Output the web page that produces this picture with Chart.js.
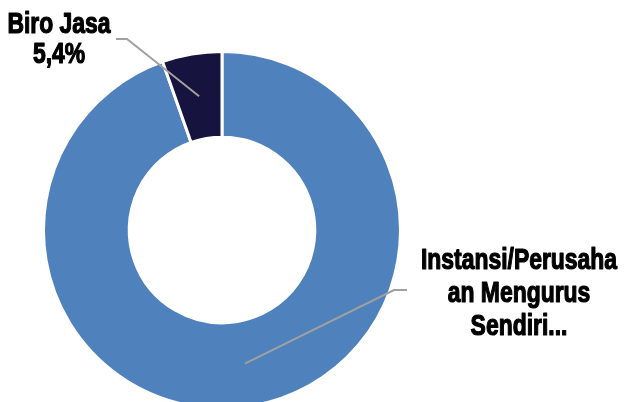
<!DOCTYPE html>
<html>
<head>
<meta charset="utf-8">
<script src="https://cdn.jsdelivr.net/npm/chart.js@4/dist/chart.umd.min.js"></script>
<style>
  html, body { margin: 0; padding: 0; background: #fff; overflow: hidden; }
  #wrap { width: 625px; height: 402px; overflow: hidden; }
</style>
</head>
<body>
<div id="wrap"><canvas id="c" width="625" height="420"></canvas></div>
<script>
// Data
const categories = ['Instansi/Perusahaan Mengurus Sendiri', 'Biro Jasa'];
const values     = [94.6, 5.4];
const colors     = ['#4F81BD', '#16133F'];

// label text as shown on the picture (Excel clips the long one)
const labelLines = [
    ['Instansi/Perusaha', 'an Mengurus', 'Sendiri...'],
    ['Biro Jasa', '5,4%']
];

// label layout: text centre x, first baseline, line step, leader elbow
const labelLayout = [
    { x: 519, y: 269, step: 33, elbow: [[407, 290], [394, 290]] },
    { x: 59,  y: 33,  step: 30, elbow: [[116, 39], [127, 39]] }
];

// no narrow font installed: squeeze a bold sans horizontally
const LABEL_FONT = 'bold 29px "Liberation Sans", Arial, sans-serif';
const LABEL_SQUEEZE = 0.79;

const calloutPlugin = {
    id: 'callouts',
    afterDatasetsDraw(chart) {
        const ctx = chart.ctx;
        const meta = chart.getDatasetMeta(0);
        meta.data.forEach((arc, i) => {
            const lay = labelLayout[i];
            const p = arc.tooltipPosition();
            // leader line
            ctx.save();
            ctx.strokeStyle = '#A0A0A0';
            ctx.lineWidth = 2;
            ctx.beginPath();
            ctx.moveTo(lay.elbow[0][0], lay.elbow[0][1]);
            ctx.lineTo(lay.elbow[1][0], lay.elbow[1][1]);
            ctx.lineTo(p.x, p.y);
            ctx.stroke();
            ctx.restore();
            // label text (thin stroke to mimic the heavy face)
            ctx.save();
            ctx.fillStyle = '#000';
            ctx.strokeStyle = '#000';
            ctx.lineWidth = 1.2;
            ctx.lineJoin = 'round';
            ctx.font = LABEL_FONT;
            ctx.textAlign = 'center';
            ctx.textBaseline = 'alphabetic';
            ctx.translate(lay.x, 0);
            ctx.scale(LABEL_SQUEEZE, 1);
            labelLines[i].forEach((t, k) => {
                ctx.fillText(t, 0, lay.y + k * lay.step);
                ctx.strokeText(t, 0, lay.y + k * lay.step);
            });
            ctx.restore();
        });
    }
};

new Chart(document.getElementById('c'), {
    type: 'doughnut',
    data: {
        labels: categories,
        datasets: [{
            data: values,
            backgroundColor: colors,
            borderColor: '#ffffff',
            borderWidth: 3
        }]
    },
    options: {
        responsive: false,
        animation: false,
        cutout: '52%',
        layout: { padding: { top: 50, bottom: 10, left: 42, right: 223 } },
        plugins: {
            legend: { display: false },
            tooltip: { enabled: false }
        }
    },
    plugins: [calloutPlugin]
});
</script>
</body>
</html>
